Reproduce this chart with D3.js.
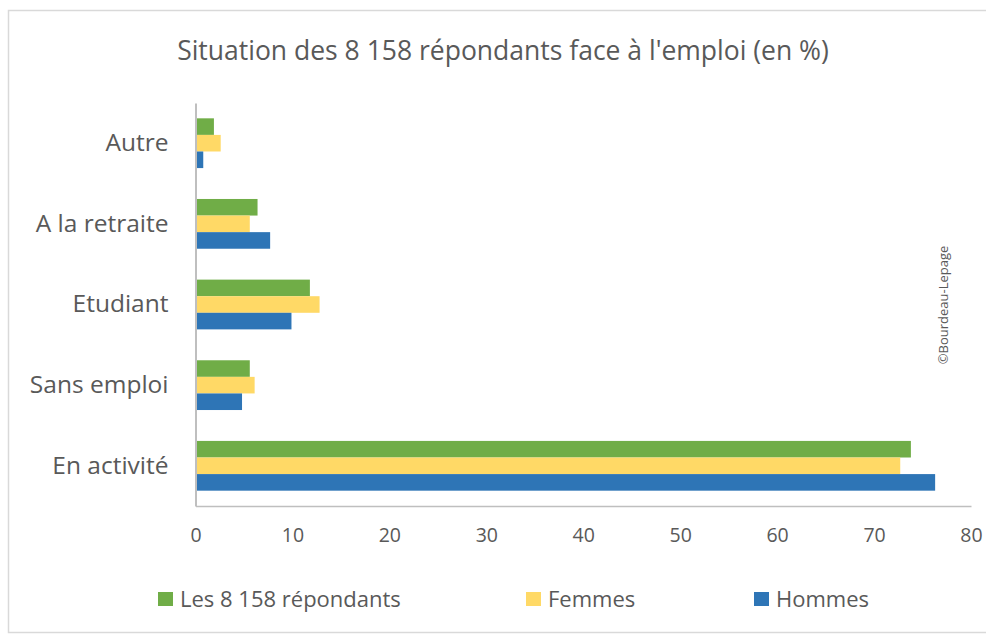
<!DOCTYPE html>
<html>
<head>
<meta charset="utf-8">
<script src="https://cdn.jsdelivr.net/npm/d3@7"></script>
<style>
  html, body { margin: 0; padding: 0; background: #fff; }
  svg { display: block; }
  text { font-family: "Open Sans", "Noto Sans", sans-serif; fill: #595959; }
</style>
</head>
<body>
<svg id="chart" width="986" height="635"></svg>
<script>
const categories = ["Autre", "A la retraite", "Etudiant", "Sans emploi", "En activité"];
const seriesNames = ["Les 8 158 répondants", "Femmes", "Hommes"];
const seriesColors = ["#70AD47", "#FFD966", "#2E75B6"];
const valuesTotal = [1.9, 6.4, 11.8, 5.6, 73.8];
const valuesFemmes = [2.6, 5.6, 12.8, 6.1, 72.7];
const valuesHommes = [0.8, 7.7, 9.9, 4.8, 76.3];
const tickValues = [0, 10, 20, 30, 40, 50, 60, 70, 80];
const title = "Situation des 8 158 répondants face à l'emploi (en %)";
const credit = "©Bourdeau-Lepage";

const seriesValues = [valuesTotal, valuesFemmes, valuesHommes];

const svg = d3.select("#chart");

// outer chart border
svg.append("rect")
  .attr("x", 8.5).attr("y", 10.5)
  .attr("width", 986).attr("height", 622)
  .attr("fill", "none").attr("stroke", "#d9d9d9").attr("stroke-width", 1.5);

const plot = { left: 195.5, right: 971, top: 103, bottom: 506 };

const x = d3.scaleLinear().domain([0, 80]).range([plot.left, plot.right]);
const y = d3.scaleBand().domain(categories).range([plot.top, plot.bottom])
  .paddingInner(0.383).paddingOuter(0.19);
const ySub = d3.scaleBand().domain(seriesNames).range([0, y.bandwidth()]);

// title
svg.append("text")
  .attr("x", 503).attr("y", 60)
  .attr("text-anchor", "middle")
  .style("font-size", "26.5px")
  .text(title);

// bars
const groups = svg.append("g").selectAll("g")
  .data(categories)
  .join("g")
  .attr("transform", d => `translate(0,${y(d)})`);

groups.selectAll("rect")
  .data((c, i) => seriesNames.map((s, j) => ({ s, j, v: seriesValues[j][i] })))
  .join("rect")
  .attr("x", x(0))
  .attr("y", d => ySub(d.s))
  .attr("width", d => x(d.v) - x(0))
  .attr("height", ySub.bandwidth())
  .attr("fill", d => seriesColors[d.j]);

// x axis
const xAxis = svg.append("g")
  .attr("transform", `translate(0,${plot.bottom})`)
  .call(d3.axisBottom(x).tickValues(tickValues).tickSize(0).tickPadding(22));
xAxis.select(".domain").attr("stroke", "#bfbfbf").attr("stroke-width", 1.5);
xAxis.selectAll("text").style("font-size", "19.5px").attr("fill", "#595959");

// y axis
const yAxis = svg.append("g")
  .attr("transform", `translate(${plot.left},0)`)
  .call(d3.axisLeft(y).tickSize(0).tickPadding(27));
yAxis.select(".domain").attr("stroke", "#bfbfbf").attr("stroke-width", 2);
yAxis.selectAll("text").style("font-size", "24.5px").attr("fill", "#595959");

// legend
const legendX = [158, 526, 754];
const legend = svg.append("g").selectAll("g")
  .data(seriesNames)
  .join("g")
  .attr("transform", (d, i) => `translate(${legendX[i]},592)`);
legend.append("rect")
  .attr("width", 15).attr("height", 14)
  .attr("fill", (d, i) => seriesColors[i]);
legend.append("text")
  .attr("x", 22).attr("y", 15)
  .style("font-size", "22px")
  .text(d => d);

// credit watermark
svg.append("text")
  .attr("transform", "translate(948,305) rotate(-90)")
  .attr("text-anchor", "middle")
  .style("font-size", "13px")
  .text(credit);
</script>
</body>
</html>
